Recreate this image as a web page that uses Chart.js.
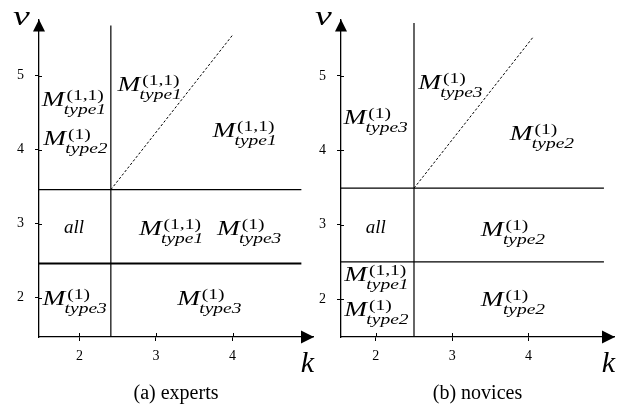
<!DOCTYPE html>
<html>
<head>
<meta charset="utf-8">
<script src="https://cdn.jsdelivr.net/npm/chart.js@4"></script>
<style>
html, body { margin: 0; padding: 0; background: #fff; }
#wrap { position: relative; width: 625px; height: 410px; }
.panel { position: absolute; top: 0; height: 410px; }
</style>
</head>
<body>
<div id="wrap">
	<div class="panel" style="left:0;width:315px"><canvas id="chartExperts"></canvas></div>
	<div class="panel" style="left:315px;width:310px"><canvas id="chartNovices"></canvas></div>
</div>
<script>
const kTicks = [2, 3, 4];
const nuTicks = [2, 3, 4, 5];

// (a) experts: boundary segments as [k, nu] pairs
const expVertical = [[2.41, 1.47], [2.41, 5.68]];
const expUpper = [[1.47, 3.46], [4.9, 3.46]];
const expLower = [[1.47, 2.46], [4.9, 2.46]];
const expDiagonal = [[2.41, 3.46], [4.0, 5.55]];
// region labels: [k, nu, superscript, subscript] or [k, nu, word]
const expLabels = [
	[1.94, 4.59, '(1,1)', 'type1'],
	[1.96, 4.07, '(1)', 'type2'],
	[2.93, 4.79, '(1,1)', 'type1'],
	[4.17, 4.17, '(1,1)', 'type1'],
	[1.93, 2.88, 'all'],
	[3.21, 2.84, '(1,1)', 'type1'],
	[4.23, 2.84, '(1)', 'type3'],
	[1.95, 1.895, '(1)', 'type3'],
	[3.71, 1.895, '(1)', 'type3'],
];

// (b) novices
const novVertical = [[2.5, 1.49], [2.5, 5.71]];
const novUpper = [[1.54, 3.49], [4.99, 3.49]];
const novLower = [[1.54, 2.5], [4.99, 2.5]];
const novDiagonal = [[2.5, 3.49], [4.06, 5.52]];
const novLabels = [
	[2.01, 4.36, '(1)', 'type3'],
	[2.99, 4.83, '(1)', 'type3'],
	[4.19, 4.135, '(1)', 'type2'],
	[2.0, 2.89, 'all'],
	[3.81, 2.85, '(1)', 'type2'],
	[2.02, 2.236, '(1,1)', 'type1'],
	[2.02, 1.777, '(1)', 'type2'],
	[3.81, 1.908, '(1)', 'type2'],
];

const SERIF = '"Liberation Serif", "Times New Roman", serif';

function drawMath(ctx, cx, by, sup, sub) {
	const sx = 1.3;
	ctx.font = `italic 21px ${SERIF}`;
	const mW = ctx.measureText('M').width;
	ctx.font = `15px ${SERIF}`;
	const supW = ctx.measureText(sup).width;
	ctx.font = `italic 15px ${SERIF}`;
	const subW = ctx.measureText(sub).width;
	const w = (mW + 1 + Math.max(supW, subW)) * sx;
	ctx.save();
	ctx.translate(cx - w / 2, by);
	ctx.scale(sx, 1);
	ctx.fillStyle = '#000';
	ctx.textAlign = 'left';
	ctx.textBaseline = 'alphabetic';
	ctx.font = `italic 21px ${SERIF}`;
	ctx.fillText('M', 0, 0);
	ctx.font = `15px ${SERIF}`;
	ctx.fillText(sup, mW + 1.5, -6);
	ctx.font = `italic 15px ${SERIF}`;
	ctx.fillText(sub, mW - 0.5, 8);
	ctx.restore();
}

const decorPlugin = {
	id: 'decor',
	afterDraw(chart, args, opts) {
		const { ctx, chartArea: { left, right, top, bottom } } = chart;
		const xs = chart.scales.x, ys = chart.scales.y;
		ctx.save();
		ctx.strokeStyle = '#000';
		ctx.fillStyle = '#000';
		ctx.lineWidth = 1;
		// inner halves of tick marks
		ctx.beginPath();
		kTicks.forEach(v => {
			const px = Math.round(xs.getPixelForValue(v)) + 0.5;
			ctx.moveTo(px, bottom); ctx.lineTo(px, bottom - 4);
		});
		nuTicks.forEach(v => {
			const py = Math.round(ys.getPixelForValue(v)) + 0.5;
			ctx.moveTo(left, py); ctx.lineTo(left + 3, py);
		});
		ctx.stroke();
		// arrow heads
		ctx.beginPath();
		ctx.moveTo(right + 1, bottom);
		ctx.lineTo(right - 12, bottom - 6.5);
		ctx.lineTo(right - 12, bottom + 6.5);
		ctx.closePath();
		ctx.fill();
		ctx.beginPath();
		ctx.moveTo(left, top);
		ctx.lineTo(left - 6, top + 12);
		ctx.lineTo(left + 6, top + 12);
		ctx.closePath();
		ctx.fill();
		// axis names
		ctx.textBaseline = 'alphabetic';
		ctx.font = `italic 30px ${SERIF}`;
		ctx.textAlign = 'right';
		ctx.fillText('k', right + 1, 372);
		ctx.save();
		ctx.translate(left - 26, top + 6);
		ctx.scale(1.4, 1);
		ctx.font = `italic 27px ${SERIF}`;
		ctx.textAlign = 'left';
		ctx.fillText('ν', 0, 0);
		ctx.restore();
		// region labels
		opts.labels.forEach(([k, nu, a, b]) => {
			const px = xs.getPixelForValue(k);
			const py = ys.getPixelForValue(nu);
			if (b === undefined) {
				ctx.font = `italic 19px ${SERIF}`;
				ctx.textAlign = 'center';
				ctx.fillText(a, px, py);
			} else {
				drawMath(ctx, px, py, a, b);
			}
		});
		ctx.restore();
	}
};

function segment(points, width, dash) {
	return {
		data: points.map(([x, y]) => ({ x, y })),
		showLine: true,
		borderColor: '#000',
		borderWidth: width,
		borderDash: dash || [],
		pointRadius: 0,
		fill: false,
	};
}

function makeChart(id, title, range, area, segments, labels) {
	return new Chart(document.getElementById(id), {
		type: 'scatter',
		data: { datasets: segments },
		plugins: [decorPlugin],
		options: {
			responsive: true,
			maintainAspectRatio: false,
			animation: false,
			layout: { padding: { left: 0, top: 11, right: area.right, bottom: 0 } },
			plugins: {
				legend: { display: false },
				tooltip: { enabled: false },
				decor: { labels },
			},
			scales: {
				x: {
					type: 'linear',
					min: range[0], max: range[1],
					afterBuildTicks: s => { s.ticks = kTicks.map(value => ({ value })); },
					afterFit: s => { s.height = 73; },
					grid: { drawOnChartArea: false, drawTicks: true, tickLength: 4, color: '#000' },
					border: { color: '#000', width: 1.3 },
					ticks: { color: '#000', font: { family: SERIF, size: 14 }, padding: 7, maxRotation: 0, autoSkip: false },
					title: { display: true, text: title, color: '#000', font: { family: SERIF, size: 20 }, padding: { top: 0, bottom: 4 } },
				},
				y: {
					type: 'linear',
					min: range[2], max: range[3],
					afterBuildTicks: s => { s.ticks = nuTicks.map(value => ({ value })); },
					afterFit: s => { s.width = area.left; },
					grid: { drawOnChartArea: false, drawTicks: true, tickLength: 4, color: '#000' },
					border: { color: '#000', width: 1.3 },
					ticks: { color: '#000', font: { family: SERIF, size: 14 }, padding: 11 },
				},
			},
		},
	});
}

makeChart('chartExperts', '(a) experts', [1.471, 5.052, 1.467, 5.763], { left: 39, right: 2 },
	[segment(expVertical, 1.2), segment(expUpper, 1.2), segment(expLower, 2), segment(expDiagonal, 1, [2.5, 2])],
	expLabels);

makeChart('chartNovices', '(b) novices', [1.543, 5.122, 1.489, 5.76], { left: 26, right: 11 },
	[segment(novVertical, 1.2), segment(novUpper, 1.2), segment(novLower, 1.2), segment(novDiagonal, 1, [2.5, 2])],
	novLabels);
</script>
</body>
</html>
